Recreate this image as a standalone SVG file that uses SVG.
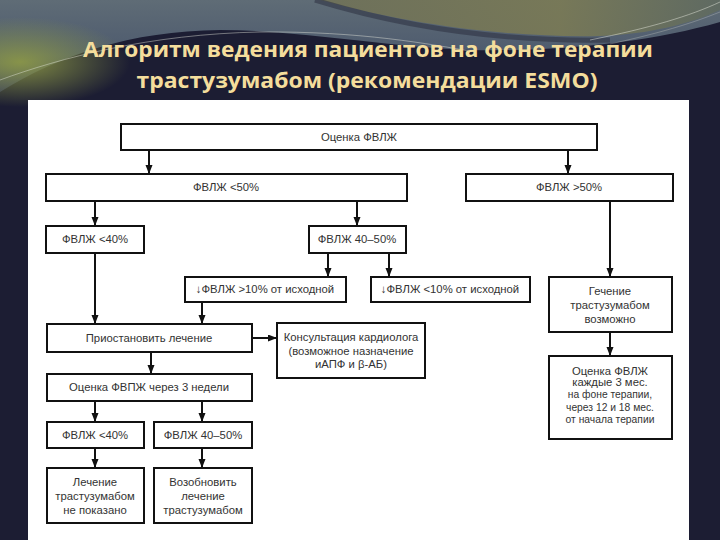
<svg xmlns="http://www.w3.org/2000/svg" width="720" height="540" viewBox="0 0 720 540">
<defs>
<linearGradient id="sky" x1="0" y1="0" x2="0" y2="1">
<stop offset="0" stop-color="#5f6c76"/>
<stop offset="0.6" stop-color="#4d5a6e"/>
<stop offset="1" stop-color="#33395a"/>
</linearGradient>
<radialGradient id="olive" cx="0.5" cy="0.5" r="0.5">
<stop offset="0" stop-color="#8e9a46" stop-opacity="0.9"/>
<stop offset="1" stop-color="#8e9a46" stop-opacity="0"/>
</radialGradient>
<linearGradient id="tan" x1="0" y1="0" x2="1" y2="0">
<stop offset="0" stop-color="#6f7158"/>
<stop offset="0.6" stop-color="#7a7a55"/>
<stop offset="1" stop-color="#5f6a60"/>
</linearGradient>
<marker id="ah" markerUnits="userSpaceOnUse" markerWidth="9" markerHeight="8" refX="9" refY="3.5" orient="auto">
<path d="M0,0 L9,3.5 L0,7 Z" fill="#111"/>
</marker>
<style>
.box{fill:#fff;stroke:#111;stroke-width:2}
.t{font-family:"Liberation Sans",Arial,sans-serif;font-size:11.3px;fill:#333;text-anchor:middle}
.s{font-size:10.3px}
.ttl{font-family:"Open Sans","Noto Sans","Liberation Sans",sans-serif;font-weight:bold;font-size:21px;fill:#f4dd9c;text-anchor:middle}
.ln{fill:none;stroke:#111;stroke-width:2;marker-end:url(#ah)}
</style>
</defs>

<!-- background -->
<rect width="720" height="540" fill="#1c1d33"/>
<path d="M0,0 H720 V22 C650,42 560,52 470,50 C380,46 300,30 220,30 C130,31 60,55 0,92 Z" fill="url(#sky)"/>
<ellipse cx="20" cy="62" rx="110" ry="45" fill="url(#olive)"/>
<path d="M320,0 C400,22 500,38 600,36 C650,34 690,24 720,10 V0 Z" fill="url(#tan)" opacity="0.9"/>
<path d="M315,0 C400,26 500,42 610,40" fill="none" stroke="#2b2f40" stroke-width="5" opacity="0.55"/>
<path d="M0,80 C60,58 150,34 260,32 C360,31 430,44 475,52" fill="none" stroke="#e8eadf" stroke-width="0.8" opacity="0.55"/>
<path d="M720,2 C690,16 650,28 590,40" fill="none" stroke="#e8eadf" stroke-width="0.8" opacity="0.6"/>
<path d="M720,12 C690,24 660,33 610,44" fill="none" stroke="#e8eadf" stroke-width="0.6" opacity="0.45"/>

<!-- title -->
<text class="ttl" x="368" y="57" textLength="570" lengthAdjust="spacingAndGlyphs">Алгоритм ведения пациентов на фоне терапии</text>
<text class="ttl" x="367" y="88" textLength="461" lengthAdjust="spacingAndGlyphs">трастузумабом (рекомендации ESMO)</text>

<!-- panel -->
<rect x="28" y="100" width="661" height="440" fill="#ffffff"/>

<g id="connectors">
<line class="ln" x1="149" y1="151" x2="149" y2="174"/>
<line class="ln" x1="568" y1="151" x2="568" y2="174"/>
<line class="ln" x1="95" y1="202" x2="95" y2="226"/>
<line class="ln" x1="357" y1="202" x2="357" y2="226"/>
<line class="ln" x1="328" y1="254" x2="328" y2="277"/>
<line class="ln" x1="389" y1="254" x2="389" y2="277"/>
<line class="ln" x1="610" y1="202" x2="610" y2="277"/>
<line class="ln" x1="95" y1="254" x2="95" y2="324"/>
<line class="ln" x1="202" y1="303" x2="202" y2="324"/>
<line class="ln" x1="253" y1="338" x2="277" y2="338"/>
<line class="ln" x1="151" y1="353" x2="151" y2="374"/>
<line class="ln" x1="95" y1="402" x2="95" y2="422"/>
<line class="ln" x1="202" y1="402" x2="202" y2="422"/>
<line class="ln" x1="95" y1="449" x2="95" y2="468"/>
<line class="ln" x1="202" y1="449" x2="202" y2="468"/>
<line class="ln" x1="610" y1="333" x2="610" y2="356"/>
</g>

<g id="n1"><rect class="box" x="121" y="124" width="476" height="26"/><text class="t" x="359" y="141">Оценка ФВЛЖ</text></g>
<g id="n2"><rect class="box" x="46" y="174" width="361" height="27"/><text class="t" x="226" y="191">ФВЛЖ &lt;50%</text></g>
<g id="n3"><rect class="box" x="466" y="174" width="207" height="27"/><text class="t" x="569" y="191">ФВЛЖ &gt;50%</text></g>
<g id="n4"><rect class="box" x="46" y="226" width="98" height="27"/><text class="t" x="95" y="243">ФВЛЖ &lt;40%</text></g>
<g id="n5"><rect class="box" x="309" y="226" width="97" height="27"/><text class="t" x="357" y="243">ФВЛЖ 40–50%</text></g>
<g id="n6"><rect class="box" x="185" y="277" width="161" height="25"/><text class="t" x="265" y="293">↓ФВЛЖ &gt;10% от исходной</text></g>
<g id="n7"><rect class="box" x="371" y="277" width="159" height="25"/><text class="t" x="450" y="293">↓ФВЛЖ &lt;10% от исходной</text></g>
<g id="n8"><rect class="box" x="549" y="277" width="123" height="55"/>
<text class="t" x="610" y="295">Гечение</text><text class="t" x="610" y="309">трастузумабом</text><text class="t" x="610" y="323">возможно</text></g>
<g id="n9"><rect class="box" x="47" y="324" width="205" height="28"/><text class="t" x="149" y="342">Приостановить лечение</text></g>
<g id="n10"><rect class="box" x="277" y="323" width="148" height="55"/>
<text class="t" x="351" y="341">Консультация кардиолога</text><text class="t" x="351" y="355">(возможное назначение</text><text class="t" x="351" y="368">иАПФ и β-АБ)</text></g>
<g id="n11"><rect class="box" x="549" y="356" width="123" height="83"/>
<text class="t" x="610" y="375">Оценка ФВЛЖ</text><text class="t" x="610" y="386">каждые 3 мес.</text>
<text class="t s" x="610" y="398">на фоне терапии,</text><text class="t s" x="610" y="411">через 12 и 18 мес.</text><text class="t s" x="610" y="423">от начала терапии</text></g>
<g id="n12"><rect class="box" x="47" y="374" width="205" height="27"/><text class="t" x="149" y="391">Оценка ФВПЖ через 3 недели</text></g>
<g id="n13"><rect class="box" x="47" y="422" width="97" height="26"/><text class="t" x="95" y="439">ФВЛЖ &lt;40%</text></g>
<g id="n14"><rect class="box" x="154" y="422" width="98" height="26"/><text class="t" x="203" y="439">ФВЛЖ 40–50%</text></g>
<g id="n15"><rect class="box" x="47" y="468" width="97" height="55"/>
<text class="t" x="95" y="486">Лечение</text><text class="t" x="95" y="500">трастузумабом</text><text class="t" x="95" y="514">не показано</text></g>
<g id="n16"><rect class="box" x="154" y="468" width="98" height="55"/>
<text class="t" x="203" y="486">Возобновить</text><text class="t" x="203" y="500">лечение</text><text class="t" x="203" y="514">трастузумабом</text></g>
</svg>
